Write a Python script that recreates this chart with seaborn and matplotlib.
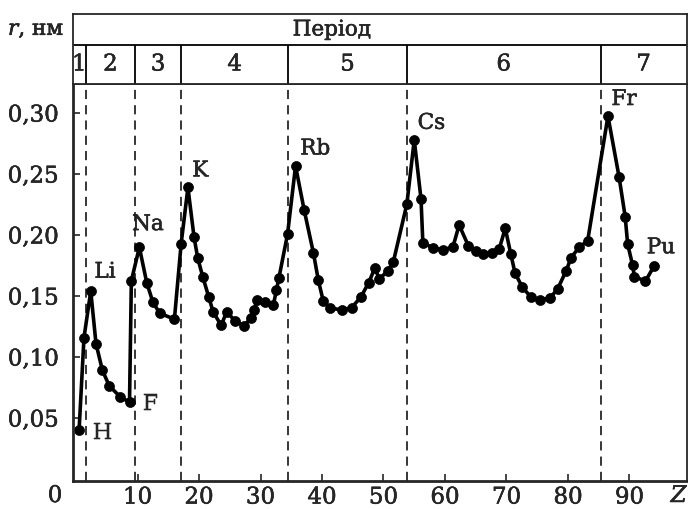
import matplotlib
matplotlib.use("Agg")
import matplotlib.pyplot as plt
import matplotlib.patheffects as pe
import seaborn as sns
import pandas as pd

# ---- data ----
z_pos = [0.5, 1.3, 2.4, 3.25, 4.3, 5.4, 7.15, 8.7, 9.0, 10.3, 11.5, 12.5, 13.6, 16.0, 17.1,
         18.2, 19.2, 19.8, 20.6, 21.6, 22.3, 23.6, 24.5, 25.9, 27.3, 28.5, 29.0, 29.4, 30.7,
         32.1, 32.6, 33.0, 34.4, 35.7, 37.1, 38.6, 39.4, 40.2, 41.3, 43.2, 44.8, 46.3, 47.6,
         48.6, 49.3, 50.7, 51.6, 53.8, 55.0, 56.1, 56.4, 58.0, 59.7, 61.3, 62.3, 63.8, 65.0,
         66.2, 67.6, 68.8, 69.8, 70.7, 71.4, 72.6, 74.0, 75.4, 77.1, 78.3, 79.7, 80.5, 81.8,
         83.2, 86.5, 88.3, 89.3, 89.7, 90.5, 90.8, 92.6, 94.0]
radius = [0.040, 0.116, 0.154, 0.111, 0.089, 0.0765, 0.0675, 0.063, 0.1625, 0.190, 0.161,
          0.145, 0.136, 0.131, 0.193, 0.239, 0.198, 0.181, 0.166, 0.149, 0.137, 0.126, 0.137,
          0.1295, 0.1257, 0.132, 0.1385, 0.147, 0.145, 0.143, 0.155, 0.165, 0.2008, 0.2566,
          0.2205, 0.1855, 0.163, 0.146, 0.1404, 0.1385, 0.1404, 0.149, 0.161, 0.173, 0.164,
          0.1705, 0.178, 0.2254, 0.278, 0.2295, 0.1937, 0.1896, 0.1877, 0.1904, 0.2082,
          0.1912, 0.1869, 0.1844, 0.1855, 0.1883, 0.2055, 0.1844, 0.1686, 0.1571, 0.149,
          0.1467, 0.1486, 0.1557, 0.1707, 0.1814, 0.1899, 0.1953, 0.2975, 0.2478, 0.215,
          0.1926, 0.1754, 0.1658, 0.1623, 0.1746]

period_bounds = [1.6, 9.6, 17.1, 34.5, 53.8, 85.3]
period_names = ["1", "2", "3", "4", "5", "6", "7"]

elem_labels = ["H", "Li", "F", "Na", "K", "Rb", "Cs", "Fr", "Pu"]
label_z = [4.3, 4.7, 12.1, 11.7, 20.2, 38.9, 57.8, 89.1, 95.1]
label_r = [0.0377, 0.170, 0.0615, 0.209, 0.253, 0.271, 0.292, 0.3115, 0.190]

x_ticks = [10, 20, 30, 40, 50, 60, 70, 80, 90]
x_tick_labels = ["10", "20", "30", "40", "50", "60", "70", "80", "90"]
y_ticks = [0.05, 0.10, 0.15, 0.20, 0.25, 0.30]
y_tick_labels = ["0,05", "0,10", "0,15", "0,20", "0,25", "0,30"]

header_title = "Період"
y_title = "$r$, нм"
x_title = "$Z$"

# ---- style ----
sns.set_style("ticks")
plt.rcParams["font.family"] = ["DejaVu Serif"]
plt.rcParams["mathtext.fontset"] = "dejavuserif"

thick = [pe.withStroke(linewidth=0.35, foreground="black")]

W, H = 688, 509
fig = plt.figure(figsize=(W / 100, H / 100), dpi=100)
L, R = 72.5, 686.5
T_main, B_main = 84, 481
T_head = 14
ax = fig.add_axes([L / W, 1 - B_main / H, (R - L) / W, (B_main - T_main) / H])
hx = fig.add_axes([L / W, 1 - T_main / H, (R - L) / W, (T_main - T_head) / H])

xlim = (-0.57, 99.27)

df = pd.DataFrame({"Z": z_pos, "r": radius})
sns.lineplot(data=df, x="Z", y="r", sort=False, estimator=None, color="black",
             lw=2.6, marker="o", markersize=7.2, markeredgecolor="black",
             markeredgewidth=0.5, ax=ax)

ax.set_xlim(xlim)
ax.set_ylim(-0.0016, 0.3238)
for b in period_bounds:
    ax.axvline(b, color="black", lw=1.1, ls=(0, (6, 4)))

ax.set_xticks(x_ticks)
ax.set_xticklabels(x_tick_labels)
ax.set_yticks(y_ticks)
ax.set_yticklabels(y_tick_labels)
ax.tick_params(axis="x", direction="in", length=5, width=1.2, labelsize=16.5, pad=4)
ax.tick_params(axis="y", direction="in", length=5, width=1.2, labelsize=16.5, pad=10)
for lab in ax.get_xticklabels() + ax.get_yticklabels():
    lab.set_path_effects(thick)
ax.set_xlabel("")
ax.set_ylabel("")
for s in ["left", "bottom"]:
    ax.spines[s].set_linewidth(2.0)
for s in ["top", "right"]:
    ax.spines[s].set_visible(True)
    ax.spines[s].set_linewidth(1.3)

for name, zx, ry in zip(elem_labels, label_z, label_r):
    ax.text(zx, ry, name, ha="center", va="center", fontsize=15.5, path_effects=thick)

# header table
hx.set_xlim(xlim)
hx.set_ylim(0, 1)
hx.set_xticks([])
hx.set_yticks([])
for s in hx.spines.values():
    s.set_visible(True)
    s.set_linewidth(1.3)
mid = (T_main - 45) / (T_main - T_head)
hx.axhline(mid, color="black", lw=1.3)
hx.vlines(period_bounds, 0, mid, color="black", lw=1.3)
edges = [xlim[0]] + period_bounds + [xlim[1]]
for i, nm in enumerate(period_names):
    cx = (edges[i] + edges[i + 1]) / 2
    hx.text(cx, mid / 2, nm, ha="center", va="center", fontsize=16.5, path_effects=thick)
hx.text(41.6, (1 + mid) / 2, header_title, ha="center", va="center", fontsize=15.5,
        path_effects=thick)

fig.text(8 / W, 1 - 29 / H, y_title, ha="left", va="center", fontsize=15.5, path_effects=thick)
fig.text(55 / W, 1 - 496 / H, "0", ha="center", va="center", fontsize=16.5, path_effects=thick)
fig.text(680 / W, 1 - 496 / H, x_title, ha="center", va="center", fontsize=16.5,
         path_effects=thick)

fig.savefig("out.png", dpi=100)
